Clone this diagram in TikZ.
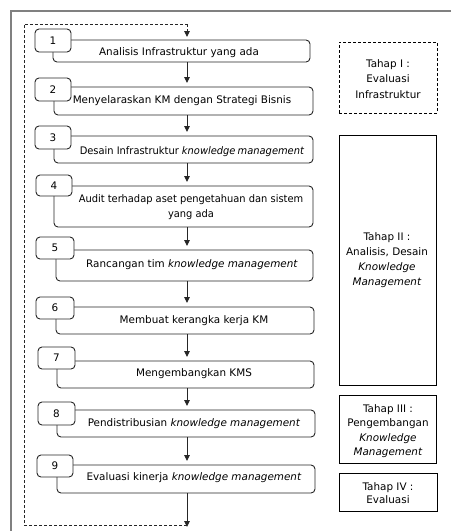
\documentclass[tikz,border=0pt]{standalone}
\usepackage{fontspec}
\usepackage{graphicx}
\setmainfont{DejaVu Sans}
\usetikzlibrary{arrows.meta,calc}
\begin{document}
\begin{tikzpicture}[x=1pt,y=-1pt,
  font=\fontsize{10.4}{14.5}\selectfont,
  ln/.style={draw=black!85, line width=0.9pt},
  mbox/.style={ln, rounded corners=4pt, anchor=north west, inner sep=0pt, outer sep=0pt},
  lbox/.style={ln, fill=white, rounded corners=4pt, anchor=north west, inner sep=0pt, outer sep=0pt, minimum width=36pt, minimum height=23pt},
  num/.style={inner sep=0pt},
  txt/.style={inner sep=0pt, align=center},
  tbox/.style={draw=black, line width=0.8pt, anchor=north west, inner sep=0pt, outer sep=0pt},
  arr/.style={draw=black!85, line width=0.9pt, -{Triangle[length=6pt,width=5.5pt]}},
  frame/.style={draw=black!50, line width=2pt}
]
\useasboundingbox (0,0) rectangle (451,531);
% outer frame
\coordinate (f0) at (451,11);
\coordinate (f1) at (11,11);
\coordinate (f2) at (11,531);
\draw[frame] (f0) -- (f1) -- (f2);
\coordinate (ax) at (187,0);
% main boxes
\node[mbox, minimum width=257pt, minimum height=22pt] (b1) at (53,40) {};
\node[mbox, minimum width=259pt, minimum height=28pt] (b2) at (54,87) {};
\node[mbox, minimum width=259pt, minimum height=27pt] (b3) at (54,136) {};
\node[mbox, minimum width=259pt, minimum height=41pt] (b4) at (54,186) {};
\node[mbox, minimum width=257pt, minimum height=31pt] (b5) at (56,250) {};
\node[mbox, minimum width=258pt, minimum height=27pt] (b6) at (56,307) {};
\node[mbox, minimum width=257pt, minimum height=27pt] (b7) at (57,361) {};
\node[mbox, minimum width=258pt, minimum height=27pt] (b8) at (57,410) {};
\node[mbox, minimum width=258pt, minimum height=28pt] (b9) at (57,465) {};
% label boxes
\node[lbox] (l1) at (35,29) {};
\node[lbox] (l2) at (35,78) {};
\node[lbox] (l3) at (35,126) {};
\node[lbox, minimum height=21pt] (l4) at (36,175) {};
\node[lbox, minimum width=38pt, minimum height=22pt] (l5) at (36,237) {};
\node[lbox, minimum width=38pt, minimum height=22pt] (l6) at (36,297) {};
\node[lbox, minimum width=37pt, minimum height=22pt] (l7) at (38,347) {};
\node[lbox, minimum width=37pt, minimum height=23pt] (l8) at (38,402) {};
\node[lbox, minimum width=36pt, minimum height=22pt] (l9) at (37,455) {};
\node[num] at (l1.center) {1};
\node[num] at (l2.center) {2};
\node[num] at (l3.center) {3};
\node[num] at (l4.center) {4};
\node[num] at (l5.center) {5};
\node[num] at (l6.center) {6};
\node[num] at (l7.center) {7};
\node[num] at (l8.center) {8};
\node[num] at (l9.center) {9};
% texts
\node[txt] (t1) at (179,53) {Analisis Infrastruktur yang ada};
\node[txt] (t2) at (182,101) {Menyelaraskan KM dengan Strategi Bisnis};
\node[txt] (t3) at (192,152) {\scalebox{0.95}[1]{Desain Infrastruktur \textit{knowledge\kern-1pt\ management}}};
\node[txt] (t4) at (191,207) {\scalebox{0.95}[1]{Audit terhadap aset pengetahuan dan sistem}\\\scalebox{0.95}[1]{yang ada}};
\node[txt] (t5) at (192,265) {Rancangan tim \textit{knowledge management}};
\node[txt] (t6) at (194,321) {Membuat kerangka kerja KM};
\node[txt] (t7) at (194,374) {Mengembangkan KMS};
\node[txt] (t8) at (194,424) {Pendistribusian \textit{knowledge management}};
\node[txt] (t9) at (194,478) {Evaluasi kinerja \textit{knowledge management}};
% arrows
\draw[arr] (b1.south -| ax) -- ([yshift=4pt]b2.north -| ax);
\draw[arr] (b2.south -| ax) -- ([yshift=4pt]b3.north -| ax);
\draw[arr] (b3.south -| ax) -- ([yshift=4pt]b4.north -| ax);
\draw[arr] (b4.south -| ax) -- ([yshift=4pt]b5.north -| ax);
\draw[arr] (b5.south -| ax) -- ([yshift=4pt]b6.north -| ax);
\draw[arr] (b6.south -| ax) -- ([yshift=4pt]b7.north -| ax);
\draw[arr] (b7.south -| ax) -- ([yshift=4pt]b8.north -| ax);
\draw[arr] (b8.south -| ax) -- ([yshift=4pt]b9.north -| ax);
% loop
\coordinate (lb) at (187,527);
\coordinate (lbl) at (24,525);
\coordinate (ltl) at (24,24);
\coordinate (lt) at (187,24);
\draw[arr] (b9.south -| ax) -- (lb);
\draw[draw=black!85, line width=0.8pt, dashed, dash pattern=on 3pt off 2pt] (187,525) -- (lbl) -- (ltl) -- (lt);
\draw[arr, dashed, dash pattern=on 3pt off 2pt] (lt) -- ([yshift=3pt]b1.north -| ax);
% stage boxes
\node[tbox, dashed, dash pattern=on 3pt off 2pt, minimum width=98pt, minimum height=71pt] (s1) at (339,42) {};
\node[tbox, minimum width=97pt, minimum height=250pt] (s2) at (339,135) {};
\node[tbox, minimum width=97pt, minimum height=68pt] (s3) at (339,395) {};
\node[tbox, minimum width=98pt, minimum height=38pt] (s4) at (339,473) {};
\node[txt, font=\fontsize{10.4}{15.5}\selectfont] at (388,79) {Tahap I :\\Evaluasi\\Infrastruktur};
\node[txt, font=\fontsize{10.4}{15}\selectfont] at (387,260) {Tahap II :\\Analisis, Desain\\\textit{Knowledge}\\\textit{Management}};
\node[txt, font=\fontsize{10.4}{14.5}\selectfont] at (388,431) {Tahap III :\\Pengembangan\\\textit{Knowledge}\\\textit{Management}};
\node[txt, font=\fontsize{10.4}{13.5}\selectfont] at (388,493) {Tahap IV :\\Evaluasi};
\end{tikzpicture}
\end{document}
